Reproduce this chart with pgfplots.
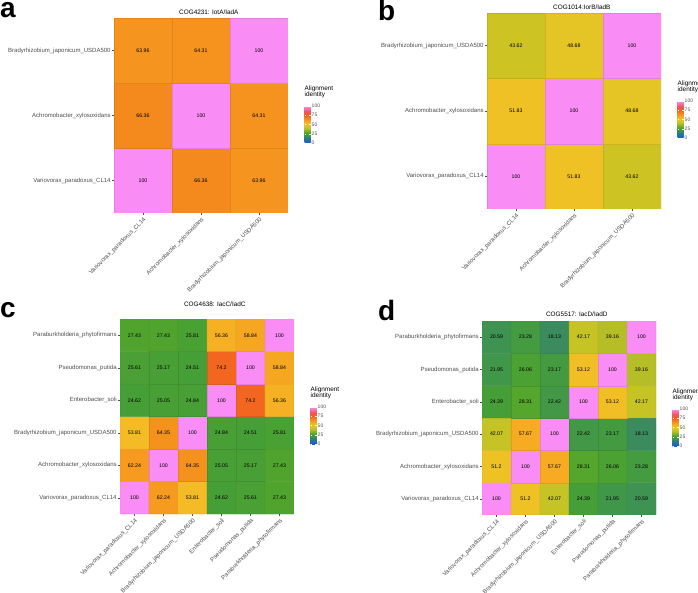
\documentclass[border=0pt]{standalone}
\usepackage{fontspec}
\setmainfont{Liberation Sans}
\usepackage{pgfplots}
\usepackage{pgfplotstable}
\pgfplotsset{compat=1.18}
\definecolor{grey30}{RGB}{77,77,77}

\pgfplotstableread{
x y c
0 0 100
1 0 66.36
2 0 63.96
0 1 66.36
1 1 100
2 1 64.31
0 2 63.96
1 2 64.31
2 2 100
}\tabA
\pgfplotstableread{
x y c
0 0 100
1 0 51.83
2 0 43.62
0 1 51.83
1 1 100
2 1 48.68
0 2 43.62
1 2 48.68
2 2 100
}\tabB
\pgfplotstableread{
x y c
0 0 100
1 0 62.24
2 0 53.81
3 0 24.62
4 0 25.61
5 0 27.43
0 1 62.24
1 1 100
2 1 64.35
3 1 25.05
4 1 25.17
5 1 27.43
0 2 53.81
1 2 64.35
2 2 100
3 2 24.84
4 2 24.51
5 2 25.81
0 3 24.62
1 3 25.05
2 3 24.84
3 3 100
4 3 74.2
5 3 56.36
0 4 25.61
1 4 25.17
2 4 24.51
3 4 74.2
4 4 100
5 4 58.84
0 5 27.43
1 5 27.43
2 5 25.81
3 5 56.36
4 5 58.84
5 5 100
}\tabC
\pgfplotstableread{
x y c
0 0 100
1 0 51.2
2 0 42.07
3 0 24.39
4 0 21.95
5 0 20.59
0 1 51.2
1 1 100
2 1 57.67
3 1 28.31
4 1 26.06
5 1 23.28
0 2 42.07
1 2 57.67
2 2 100
3 2 22.42
4 2 23.17
5 2 18.13
0 3 24.39
1 3 28.31
2 3 22.42
3 3 100
4 3 53.12
5 3 42.17
0 4 21.95
1 4 26.06
2 4 23.17
3 4 53.12
4 4 100
5 4 39.16
0 5 20.59
1 5 23.28
2 5 18.13
3 5 42.17
4 5 39.16
5 5 100
}\tabD

\pgfplotsset{
  colormap={ali}{
    rgb255(0pt)=(20,90,225)
    rgb255(12pt)=(40,120,140)
    rgb255(18pt)=(59,139,95)
    rgb255(21pt)=(63,148,80)
    rgb255(24.5pt)=(70,158,55)
    rgb255(28pt)=(82,165,44)
    rgb255(39pt)=(181,190,39)
    rgb255(43pt)=(202,196,36)
    rgb255(48.7pt)=(229,196,37)
    rgb255(52pt)=(241,193,37)
    rgb255(54pt)=(243,188,38)
    rgb255(57.5pt)=(246,172,34)
    rgb255(63pt)=(246,152,30)
    rgb255(66.4pt)=(244,138,30)
    rgb255(74.2pt)=(242,102,31)
    rgb255(85pt)=(245,80,85)
    rgb255(100pt)=(250,140,245)
  },
  hm/.style={
    scale only axis, width=174pt,
    enlargelimits=false,
    axis line style={draw=none},
    tick align=outside, major tick length=2pt,
    tick style={draw=grey30, line width=0.4pt},
    tick pos=left,
    yticklabel style={font=\fontsize{6}{6}\selectfont, text=grey30, inner sep=1.2pt},
    xticklabel style={font=\fontsize{6}{6}\selectfont, text=grey30, rotate=45, anchor=north east, inner sep=1.2pt},
    title style={font=\fontsize{6.4}{6.4}\selectfont, anchor=base, at={(axis description cs:0.545,1)}, inner sep=0pt},
    colormap name=ali, point meta min=0, point meta max=100,
    /pgf/number format/assume math mode=true,
    colorbar,
    colorbar style={
      scale only axis, width=6pt, height=37pt,
      at={(parent axis.north east)}, anchor=north west, xshift=8pt, yshift=-88pt,
      ytick={0,25,50,75,100},
      yticklabel style={font=\fontsize{5}{5}\selectfont, text=grey30, inner sep=1pt},
      /pgf/number format/assume math mode=true,
      axis line style={draw=none},
      tick align=inside, major tick length=1.5pt,
      tick style={draw=white, line width=0.4pt},
      title={Alignment\\identity},
      title style={at={(0,1)}, anchor=south west, align=left, inner sep=0pt, yshift=1.5pt,
        font=\fontsize{6.4}{6}\selectfont},
    },
  },
  cells/.style={matrix plot*, shader=faceted, faceted color=mapped color!91!black, line width=0.3pt,
    point meta=explicit, mesh/cols=#1},
  labs/.style={only marks, mark=*, mark size=0pt, point meta=explicit symbolic,
    nodes near coords, nodes near coords align={center},
    every node near coord/.style={font=\fontsize{5.2}{5.2}\selectfont, text=black, anchor=center, inner sep=0pt}},
}

\begin{document}
\begin{tikzpicture}
\useasboundingbox (0,0) rectangle (698pt,-593pt);

% panel letters
\node[anchor=base west, inner sep=0pt, font=\fontsize{28}{28}\selectfont\bfseries] at (0pt,-18pt) {a};
\node[anchor=base west, inner sep=0pt, font=\fontsize{28}{28}\selectfont\bfseries] at (378pt,-21pt) {b};
\node[anchor=base west, inner sep=0pt, font=\fontsize{28}{28}\selectfont\bfseries] at (0pt,-317pt) {c};
\node[anchor=base west, inner sep=0pt, font=\fontsize{28}{28}\selectfont\bfseries] at (378pt,-320pt) {d};

% a
\begin{axis}[hm, at={(114pt,-18pt)}, anchor=north west, height=195pt,
  xmin=-0.5, xmax=2.5, ymin=-0.5, ymax=2.5,
  xtick={0,1,2}, ytick={0,1,2},
  xticklabels={Variovorax\_paradoxus\_CL14, Achromobacter\_xylosoxidans, Bradyrhizobium\_japonicum\_USDA500},
  yticklabels={Variovorax\_paradoxus\_CL14, Achromobacter\_xylosoxidans, Bradyrhizobium\_japonicum\_USDA500},
  title={COG4231: IotA/IadA}, title style={yshift=-2.3pt}]
\addplot[cells=3] table[x=x, y=y, meta=c] {\tabA};
\addplot[labs] table[x=x, y=y, meta=c] {\tabA};
\end{axis}

% b
\begin{axis}[hm, at={(487pt,-13pt)}, anchor=north west, height=196pt,
  xmin=-0.5, xmax=2.5, ymin=-0.5, ymax=2.5,
  xtick={0,1,2}, ytick={0,1,2},
  xticklabels={Variovorax\_paradoxus\_CL14, Achromobacter\_xylosoxidans, Bradyrhizobium\_japonicum\_USDA500},
  yticklabels={Variovorax\_paradoxus\_CL14, Achromobacter\_xylosoxidans, Bradyrhizobium\_japonicum\_USDA500},
  title={COG1014:IorB/IadB}, title style={yshift=-2.3pt}]
\addplot[cells=3] table[x=x, y=y, meta=c] {\tabB};
\addplot[labs] table[x=x, y=y, meta=c] {\tabB};
\end{axis}

% c
\begin{axis}[hm, at={(120pt,-319pt)}, anchor=north west, height=195pt,
  xmin=-0.5, xmax=5.5, ymin=-0.5, ymax=5.5,
  xtick={0,...,5}, ytick={0,...,5},
  xticklabels={Variovorax\_paradoxus\_CL14, Achromobacter\_xylosoxidans, Bradyrhizobium\_japonicum\_USDA500, Enterobacter\_soli, Pseudomonas\_putida, Paraburkholderia\_phytofirmans},
  yticklabels={Variovorax\_paradoxus\_CL14, Achromobacter\_xylosoxidans, Bradyrhizobium\_japonicum\_USDA500, Enterobacter\_soli, Pseudomonas\_putida, Paraburkholderia\_phytofirmans},
  title={COG4638: IacC/IadC}, title style={yshift=7pt}]
\addplot[cells=6] table[x=x, y=y, meta=c] {\tabC};
\addplot[labs] table[x=x, y=y, meta=c] {\tabC};
\end{axis}

% d
\begin{axis}[hm, at={(482pt,-321pt)}, anchor=north west, height=194pt,
  xmin=-0.5, xmax=5.5, ymin=-0.5, ymax=5.5,
  xtick={0,...,5}, ytick={0,...,5},
  xticklabels={Variovorax\_paradoxus\_CL14, Achromobacter\_xylosoxidans, Bradyrhizobium\_japonicum\_USDA500, Enterobacter\_soli, Pseudomonas\_putida, Paraburkholderia\_phytofirmans},
  yticklabels={Variovorax\_paradoxus\_CL14, Achromobacter\_xylosoxidans, Bradyrhizobium\_japonicum\_USDA500, Enterobacter\_soli, Pseudomonas\_putida, Paraburkholderia\_phytofirmans},
  title={COG5517: IacD/IadD}, title style={yshift=-1.3pt}]
\addplot[cells=6] table[x=x, y=y, meta=c] {\tabD};
\addplot[labs] table[x=x, y=y, meta=c] {\tabD};
\end{axis}
\end{tikzpicture}
\end{document}
